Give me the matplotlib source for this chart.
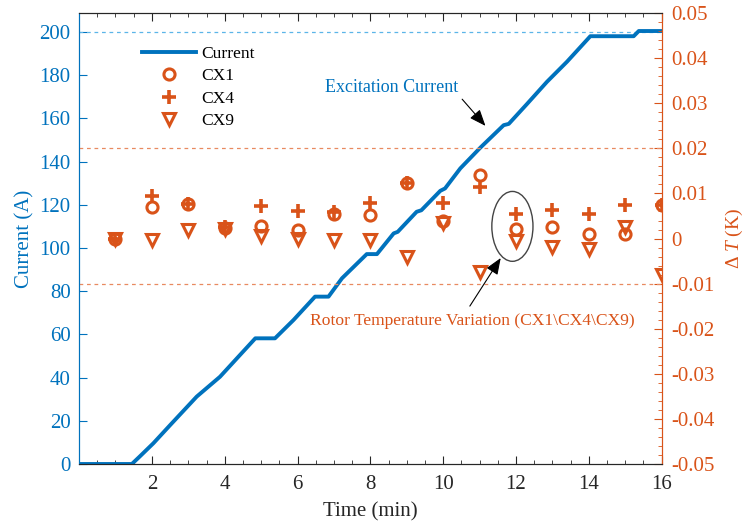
import numpy as np
import matplotlib
matplotlib.use("Agg")
import matplotlib.pyplot as plt
from matplotlib.patches import Ellipse
from matplotlib.ticker import MultipleLocator

plt.rcParams['font.family'] = ['Liberation Serif', 'DejaVu Serif']
plt.rcParams['axes.unicode_minus'] = False
plt.rcParams['mathtext.fontset'] = 'custom'
plt.rcParams['mathtext.rm'] = 'Liberation Serif'
plt.rcParams['mathtext.it'] = 'Liberation Serif:italic'

# excitation current (left axis)
time = [0, 1.45, 1.68, 2.04, 2.5, 3.23, 3.87, 4.42, 4.84, 5.38, 5.89, 6.48, 6.85,
        7.22, 7.9, 8.18, 8.64, 8.75, 9.27, 9.4, 9.92, 10.05, 10.47, 11.02, 11.66,
        11.8, 12.3, 12.85, 13.4, 14.04, 15.23, 15.37, 16]
current = [0, 0, 3.7, 9.6, 18, 31.2, 40.4, 50.5, 58.2, 58.2, 66.7, 77.5, 77.5,
           86, 97.2, 97.2, 106.8, 107.5, 116.8, 117.5, 126.5, 127.6, 136.9, 146.5, 156.9,
           157.5, 166.7, 177, 186.3, 198.1, 198.1, 200.5, 200.5]

# rotor temperature variation (right axis)
t_meas = [1, 2, 3, 4, 5, 6, 7, 8, 9, 10, 11, 12, 13, 14, 15, 16]
cx1 = [0.0, 0.007, 0.0076, 0.0024, 0.0027, 0.0018, 0.0055, 0.0052,
       0.0124, 0.0039, 0.014, 0.0022, 0.0026, 0.001, 0.0011, 0.0074]
cx4 = [0.0, 0.0095, 0.0076, 0.0025, 0.0072, 0.0061, 0.0058, 0.0078,
       0.0124, 0.0079, 0.0115, 0.0055, 0.0063, 0.0055, 0.0074, 0.0074]
cx9 = [0.0, -0.0004, 0.002, 0.0022, 0.0005, 0.0, -0.0004, -0.0004,
       -0.0041, 0.0035, -0.0074, -0.0006, -0.0018, -0.0024, 0.0026, -0.008]

right_ticks = [-0.05, -0.04, -0.03, -0.02, -0.01, 0, 0.01, 0.02, 0.03, 0.04, 0.05]
right_labels = ['-0.05', '-0.04', '-0.03', '-0.02', '-0.01', '0',
                '0.01', '0.02', '0.03', '0.04', '0.05']

blue = '#0072BD'
orange = '#D95319'

fig = plt.figure(figsize=(7.46, 5.24), dpi=100)
ax = fig.add_axes([0.106, 0.1145, 0.781, 0.8605])
ax2 = ax.twinx()

ax.plot(time, current, color=blue, lw=2.8, label='Current', zorder=3)
ax.axhline(200, color='#5BB5E8', lw=0.9, ls=(0, (3, 3)))
ax.set_xlim(0, 16)
ax.set_ylim(0, 208.8)
ax.set_xticks(range(2, 17, 2))
ax.xaxis.set_minor_locator(MultipleLocator(0.5))
ax.set_yticks(range(0, 201, 20))
ax.tick_params(axis='x', which='both', direction='in', top=True, colors='#262626',
               labelsize=15, pad=8)
ax.tick_params(axis='x', which='major', length=6)
ax.tick_params(axis='x', which='minor', length=3)
ax.tick_params(axis='y', direction='in', colors=blue, labelsize=15, length=6, pad=6)
ax.set_xlabel('Time (min)', fontsize=15, color='#262626', labelpad=6)
ax.set_ylabel('Current (A)', fontsize=15, color=blue)
ax.yaxis.set_label_coords(-0.077, 0.5)

ax2.plot(t_meas, cx1, ls='none', marker='o', ms=8, mfc='none', mec=orange, mew=2.2, label='CX1')
ax2.plot(t_meas, cx4, ls='none', marker='+', ms=9.5, mec=orange, mew=2.6, label='CX4')
ax2.plot(t_meas, cx9, ls='none', marker='v', ms=8.5, mfc='none', mec=orange, mew=2.2, label='CX9')
ax2.axhline(0.02, color='#E88A60', lw=0.9, ls=(0, (3, 3)))
ax2.axhline(-0.01, color='#E88A60', lw=0.9, ls=(0, (3, 3)))
ax2.set_ylim(-0.05, 0.05)
ax2.set_yticks(right_ticks)
ax2.set_yticklabels(right_labels)
ax2.yaxis.set_minor_locator(MultipleLocator(0.002))
ax2.tick_params(axis='y', which='both', direction='in', colors=orange, labelsize=15, pad=7)
ax2.tick_params(axis='y', which='major', length=6)
ax2.tick_params(axis='y', which='minor', length=3)
ax2.set_ylabel(r'$\Delta\ T$ (K)', fontsize=14, color=orange)
ax2.yaxis.set_label_coords(1.106, 0.5)

for a in (ax, ax2):
    a.spines['left'].set_color(blue)
    a.spines['right'].set_color(orange)
    a.spines['top'].set_color('#262626')
    a.spines['bottom'].set_color('#262626')

# annotations
ax.text(8.57, 174.5, 'Excitation Current', color=blue, fontsize=13, ha='center', va='center')
ax.annotate('', xy=(11.21, 155.6), xytext=(10.47, 169.9),
            arrowprops=dict(arrowstyle='-|>,head_length=1.0,head_width=0.4',
                            color='black', lw=0.8))
ax2.add_patch(Ellipse((11.9, 0.0027), 1.13, 0.0155, fill=False, ec='#444444', lw=1))
ax2.text(10.8, -0.0182, 'Rotor Temperature Variation (CX1\\CX4\\CX9)', color=orange,
         fontsize=12.6, ha='center', va='center')
ax2.annotate('', xy=(11.62, -0.0038), xytext=(10.69, -0.0155),
             arrowprops=dict(arrowstyle='-|>,head_length=1.0,head_width=0.4',
                             color='black', lw=0.8))

h1, l1 = ax.get_legend_handles_labels()
h2, l2 = ax2.get_legend_handles_labels()
ax2.legend(h1 + h2, l1 + l2, loc='upper left', bbox_to_anchor=(0.108, 0.928),
           frameon=False, fontsize=12.6, borderpad=0, borderaxespad=0,
           labelspacing=0.36, handlelength=3.1, handletextpad=0.3)

plt.savefig('out.png', dpi=100)
